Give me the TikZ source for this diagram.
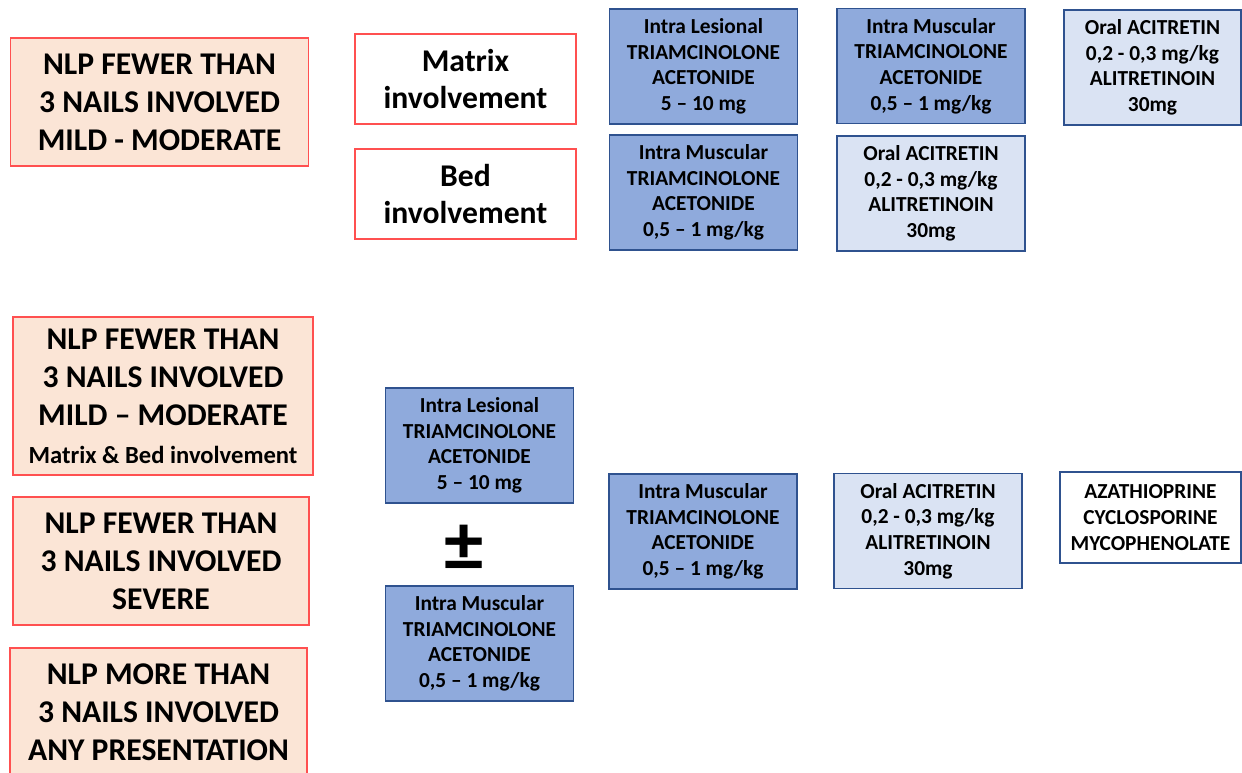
\documentclass[tikz,border=0pt]{standalone}
\usepackage{fontspec}
\setmainfont{Carlito}
\usepackage{tikz}
\usetikzlibrary{positioning}

\definecolor{sevfill}{HTML}{FBE5D6}
\definecolor{sevline}{HTML}{FF5050}
\definecolor{drugfill}{HTML}{8FAADC}
\definecolor{drugline}{HTML}{2F528F}
\definecolor{oralfill}{HTML}{DAE3F3}

\tikzset{
sevbox/.style={
  draw=sevline, 
  fill=sevfill, 
  line width=0.8pt, 
  rectangle, 
  minimum width=7.45cm, 
  minimum height=3.2cm, 
  inner sep=0pt, align=center, 
  font=\fontsize{22.5}{27}\selectfont\bfseries
  }, 
sitebox/.style={sevbox, fill=white, minimum width=5.525cm, minimum height=2.25cm}, 
drugbox/.style={
  draw=drugline, 
  fill=drugfill, 
  line width=0.8pt, 
  rectangle, 
  minimum width=4.7cm, 
  minimum height=2.875cm, 
  inner sep=0pt, align=center, 
  font=\fontsize{15.2}{18.2}\selectfont\bfseries
  }, 
oralbox/.style={drugbox, fill=oralfill}, 
immbox/.style={drugbox, fill=white, minimum width=4.525cm, minimum height=2.275cm}
}

\begin{document}
\begin{tikzpicture}[x=0.025cm, y=-0.025cm]
\useasboundingbox (0,0) rectangle (1242,772);

% first group
\node[sevbox]	(sevmild)	at (159.5,102)	{NLP FEWER THAN \\ 3 NAILS INVOLVED \\ MILD - MODERATE};
\node[sitebox]	(matrix)	at (465.5,79)	{Matrix \\ involvement};
\node[sitebox]	(bed)		at (465.5,194)	{Bed \\ involvement};
\node[drugbox]	(ilmatrix)	at (703.5,66.5)	{Intra Lesional \\ TRIAMCINOLONE \\ ACETONIDE \\ 5 -- 10 mg};
\node[drugbox]	(immatrix)	at (931,66)		{Intra Muscular \\ TRIAMCINOLONE \\ ACETONIDE \\ 0,5 -- 1 mg/kg};
\node[oralbox, minimum width=4.425cm]	(oralmatrix)	at (1152.5,67.5)	{Oral ACITRETIN \\ 0,2 - 0,3 mg/kg \\ ALITRETINOIN \\ 30mg};
\node[drugbox]	(imbed)		at (703.5,192.5)	{Intra Muscular \\ TRIAMCINOLONE \\ ACETONIDE \\ 0,5 -- 1 mg/kg};
\node[oralbox]	(oralbed)	at (931,193.5)	{Oral ACITRETIN \\ 0,2 - 0,3 mg/kg \\ ALITRETINOIN \\ 30mg};

% second group
\node[sevbox, minimum width=7.5cm, minimum height=3.95cm]	(sevboth)	at (163,396)	{NLP FEWER THAN \\ 3 NAILS INVOLVED \\ MILD -- MODERATE \\ {\fontsize{17.5}{19}\selectfont Matrix \& Bed involvement}};
\node[sevbox, minimum width=7.4cm]	(sevsevere)	at (161,561)	{NLP FEWER THAN \\ 3 NAILS INVOLVED \\ SEVERE};
\node[sevbox, minimum width=7.425cm]	(sevmore)	at (158.5,712)	{NLP MORE THAN \\ 3 NAILS INVOLVED \\ ANY PRESENTATION};
\node[drugbox]	(illow)		at (479.5,445.5)	{Intra Lesional \\ TRIAMCINOLONE \\ ACETONIDE \\ 5 -- 10 mg};
\node			(pm)		at (464,548)	{\fontsize{56}{56}\selectfont\bfseries ±};
\node[drugbox]	(imlow)		at (479.5,643.5)	{Intra Muscular \\ TRIAMCINOLONE \\ ACETONIDE \\ 0,5 -- 1 mg/kg};
\node[drugbox]	(immid)		at (703,531.5)	{Intra Muscular \\ TRIAMCINOLONE \\ ACETONIDE \\ 0,5 -- 1 mg/kg};
\node[oralbox]	(oralmid)	at (928,531)	{Oral ACITRETIN \\ 0,2 - 0,3 mg/kg \\ ALITRETINOIN \\ 30mg};
\node[immbox]	(immuno)	at (1150.5,517.5)	{AZATHIOPRINE \\ CYCLOSPORINE \\ MYCOPHENOLATE};
\end{tikzpicture}
\end{document}
